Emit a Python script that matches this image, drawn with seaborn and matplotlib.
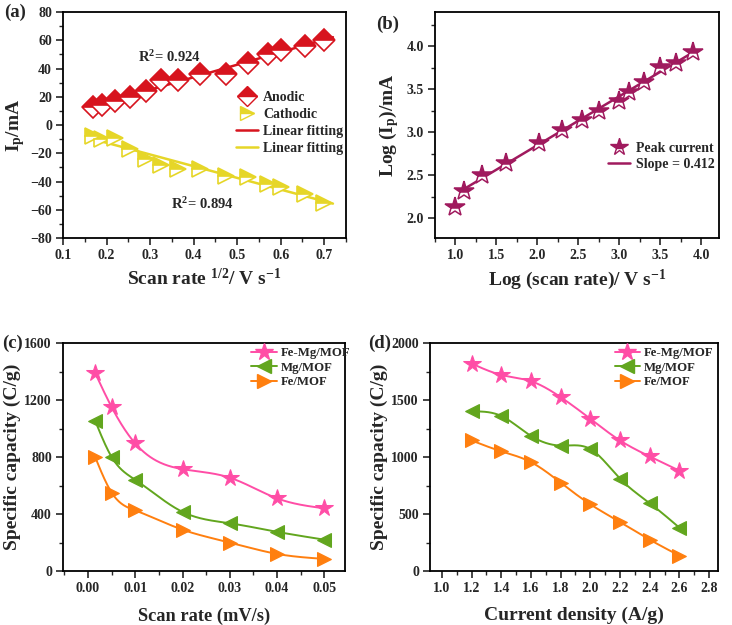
import numpy as np
import pandas as pd
import matplotlib
matplotlib.use("Agg")
import matplotlib.pyplot as plt
import seaborn as sns
from matplotlib.ticker import MultipleLocator, FormatStrFormatter
from matplotlib.lines import Line2D

# ---------------- data ----------------
# (a) peak current vs sqrt(scan rate)
a_x = [0.17, 0.19, 0.22, 0.255, 0.29, 0.325, 0.365, 0.415, 0.475, 0.525, 0.57, 0.60, 0.655, 0.70]
a_anodic = [13, 14, 17, 20, 24, 32, 32, 36, 36, 44, 50, 53, 56, 60]
a_cathodic = [-8, -10, -9, -17, -24, -28, -31, -31, -36, -37, -42, -44, -49, -55]
a_r2_anodic = "0.924"
a_r2_cathodic = "0.894"

# (b) log Ip vs log scan rate
b_x = [1.0, 1.1, 1.33, 1.62, 2.02, 2.3, 2.54, 2.75, 3.0, 3.12, 3.3, 3.5, 3.7, 3.9]
b_y = [2.13, 2.32, 2.50, 2.64, 2.87, 3.03, 3.14, 3.25, 3.37, 3.47, 3.59, 3.76, 3.81, 3.94]
b_slope_label = "Slope = 0.412"

# (c) specific capacity vs scan rate
c_x = [0.0015, 0.005, 0.01, 0.02, 0.03, 0.04, 0.05]
c_femg = [1390, 1150, 895, 715, 655, 510, 440]
c_mg = [1055, 800, 640, 415, 335, 275, 220]
c_fe = [800, 550, 425, 290, 200, 120, 85]

# (d) specific capacity vs current density
d_x = [1.2, 1.4, 1.6, 1.8, 2.0, 2.2, 2.4, 2.6]
d_femg = [1820, 1720, 1665, 1525, 1335, 1145, 1005, 880]
d_mg = [1400, 1360, 1185, 1100, 1070, 810, 595, 380]
d_fe = [1145, 1050, 955, 775, 585, 430, 275, 135]

series_names = ["Fe-Mg/MOF", "Mg/MOF", "Fe/MOF"]

# ---------------- style ----------------
sns.set_style("ticks")
plt.rcParams["font.family"] = ["Liberation Serif", "DejaVu Serif"]
plt.rcParams["font.weight"] = "bold"
plt.rcParams["axes.labelweight"] = "bold"
plt.rcParams["mathtext.default"] = "regular"
plt.rcParams["axes.linewidth"] = 1.3
plt.rcParams["xtick.direction"] = "out"
plt.rcParams["ytick.direction"] = "out"

RED = "#D7141E"
YEL = "#E6D628"
MAG = "#A01A5E"
PINK = "#FF4DA6"
GREEN = "#62A61E"
ORANGE = "#FF7F0F"

TICK_FS = 10
LABEL_FS = 14
LEG_FS = 10


def natural_spline(x, y, n=300):
    x = np.asarray(x, float)
    y = np.asarray(y, float)
    k = len(x)
    h = np.diff(x)
    A = np.zeros((k, k))
    r = np.zeros(k)
    A[0, 0] = 1
    A[-1, -1] = 1
    for i in range(1, k - 1):
        A[i, i - 1] = h[i - 1]
        A[i, i] = 2 * (h[i - 1] + h[i])
        A[i, i + 1] = h[i]
        r[i] = 6 * ((y[i + 1] - y[i]) / h[i] - (y[i] - y[i - 1]) / h[i - 1])
    M = np.linalg.solve(A, r)
    xs = np.linspace(x[0], x[-1], n)
    idx = np.clip(np.searchsorted(x, xs) - 1, 0, k - 2)
    x0, x1 = x[idx], x[idx + 1]
    hh = x1 - x0
    t0 = x1 - xs
    t1 = xs - x0
    ys = (M[idx] * t0 ** 3 / (6 * hh) + M[idx + 1] * t1 ** 3 / (6 * hh)
          + (y[idx] / hh - M[idx] * hh / 6) * t0
          + (y[idx + 1] / hh - M[idx + 1] * hh / 6) * t1)
    return xs, ys


def style_axis(ax):
    for s in ["top", "right", "left", "bottom"]:
        ax.spines[s].set_visible(True)
        ax.spines[s].set_color("black")
    ax.tick_params(which="major", length=5, width=1.2, labelsize=TICK_FS, pad=3)
    ax.tick_params(which="minor", length=3, width=1.0)
    ax.tick_params(top=False, right=False, which="both")
    for lab in ax.get_xticklabels() + ax.get_yticklabels():
        lab.set_fontweight("bold")


W, H = 732, 625
fig = plt.figure(figsize=(W / 100, H / 100), dpi=100)


def add_axes(l, r, t, b):
    return fig.add_axes([l / W, 1 - b / H, (r - l) / W, (b - t) / H])


axA = add_axes(63, 346, 12, 238)
axB = add_axes(435, 719, 12, 238)
axC = add_axes(63, 345, 343, 571)
axD = add_axes(430, 718, 343, 571)

# ---------------- (a) ----------------
dfa = pd.DataFrame({"x": a_x, "anodic": a_anodic, "cathodic": a_cathodic})
ax = axA
for col, color, mk in [("anodic", RED, "D"), ("cathodic", YEL, ">")]:
    p = np.polyfit(dfa["x"], dfa[col], 1)
    xf = np.array([dfa["x"].min() - 0.01, dfa["x"].max() + 0.02])
    ax.plot(xf, np.polyval(p, xf), color=color, lw=1.8, zorder=2)
    sns.lineplot(data=dfa, x="x", y=col, ax=ax, linestyle="", marker=mk,
                 markersize=11, fillstyle="top", markerfacecolor=color,
                 markerfacecoloralt="white", markeredgecolor=color,
                 markeredgewidth=1.2, zorder=3, legend=False)
ax.set_xlim(0.1, 0.75)
ax.set_ylim(-80, 80)
ax.xaxis.set_major_locator(MultipleLocator(0.1))
ax.xaxis.set_minor_locator(MultipleLocator(0.05))
ax.yaxis.set_major_locator(MultipleLocator(20))
ax.yaxis.set_minor_locator(MultipleLocator(10))
ax.xaxis.set_major_formatter(FormatStrFormatter("%.1f"))
ax.set_xlabel("Scan rate $^{1/2}$/ V s$^{-1}$", fontsize=LABEL_FS, fontweight="bold", labelpad=4)
ax.set_ylabel("I$_{p}$/mA", fontsize=LABEL_FS, fontweight="bold", labelpad=2)
ax.text(0.345, 48, "R$^{2}$= " + a_r2_anodic, fontsize=10.5, fontweight="bold", ha="center", va="center")
ax.text(0.42, -56, "R$^{2}$= " + a_r2_cathodic, fontsize=10.5, fontweight="bold", ha="center", va="center")
handles = [
    Line2D([], [], linestyle="", marker="D", markersize=10, fillstyle="top", color=RED,
           markerfacecoloralt="white", markeredgecolor=RED),
    Line2D([], [], linestyle="", marker=">", markersize=10, fillstyle="top", color=YEL,
           markerfacecoloralt="white", markeredgecolor=YEL),
    Line2D([], [], color=RED, lw=1.8),
    Line2D([], [], color=YEL, lw=1.8),
]
ax.legend(handles, ["Anodic", "Cathodic", "Linear fitting", "Linear fitting"],
          loc="upper left", bbox_to_anchor=(0.59, 0.675), frameon=False,
          prop={"weight": "bold", "size": LEG_FS}, handlelength=1.6,
          handletextpad=0.4, labelspacing=0.28, borderaxespad=0)
style_axis(ax)

# ---------------- (b) ----------------
dfb = pd.DataFrame({"x": b_x, "y": b_y})
ax = axB
p = np.polyfit(dfb["x"][1:], dfb["y"][1:], 1)
xf = np.array([dfb["x"][1], dfb["x"].iloc[-1]])
ax.plot(xf, np.polyval(p, xf), color=MAG, lw=1.8, zorder=2)
sns.lineplot(data=dfb, x="x", y="y", ax=ax, linestyle="", marker="*",
             markersize=15, fillstyle="top", markerfacecolor=MAG,
             markerfacecoloralt="white", markeredgecolor=MAG,
             markeredgewidth=1.1, zorder=3, legend=False)
ax.set_xlim(0.75, 4.22)
ax.set_ylim(1.77, 4.4)
ax.xaxis.set_major_locator(MultipleLocator(0.5))
ax.xaxis.set_minor_locator(MultipleLocator(0.25))
ax.yaxis.set_major_locator(MultipleLocator(0.5))
ax.yaxis.set_minor_locator(MultipleLocator(0.25))
ax.xaxis.set_major_formatter(FormatStrFormatter("%.1f"))
ax.yaxis.set_major_formatter(FormatStrFormatter("%.1f"))
ax.set_xlabel("Log (scan rate)/ V s$^{-1}$", fontsize=LABEL_FS, fontweight="bold", labelpad=4)
ax.set_ylabel("Log (I$_{p}$)/mA", fontsize=LABEL_FS, fontweight="bold", labelpad=4)
handles = [
    Line2D([], [], linestyle="", marker="*", markersize=13, fillstyle="top", color=MAG,
           markerfacecoloralt="white", markeredgecolor=MAG),
    Line2D([], [], color=MAG, lw=1.8),
]
ax.legend(handles, ["Peak current", b_slope_label],
          loc="upper left", bbox_to_anchor=(0.59, 0.45), frameon=False,
          prop={"weight": "bold", "size": LEG_FS}, handlelength=1.6,
          handletextpad=0.4, labelspacing=0.25, borderaxespad=0)
style_axis(ax)


# ---------------- (c) & (d) ----------------
def capacity_panel(ax, xs, ys_list, leg_x):
    specs = [(PINK, "*", 13), (GREEN, "<", 10), (ORANGE, ">", 10)]
    df = pd.DataFrame({"x": np.tile(xs, 3),
                       "y": np.concatenate(ys_list),
                       "series": np.repeat(series_names, len(xs))})
    for name, (color, mk, ms) in zip(series_names, specs):
        sub = df[df["series"] == name]
        sx, sy = natural_spline(sub["x"].values, sub["y"].values)
        ax.plot(sx, sy, color=color, lw=1.4, zorder=2)
        sns.lineplot(data=sub, x="x", y="y", ax=ax, linestyle="", marker=mk,
                     markersize=ms, color=color, markeredgecolor=color,
                     zorder=3, legend=False)
    handles = [Line2D([], [], color=c, marker=m, markersize=s, lw=1.4) for c, m, s in specs]
    ax.legend(handles, series_names, loc="upper left", bbox_to_anchor=(leg_x, 1.02),
              frameon=False, prop={"weight": "bold", "size": 9.2},
              handlelength=2.0, handletextpad=0.3, labelspacing=0.2, borderaxespad=0.3)


ax = axC
capacity_panel(ax, c_x, [c_femg, c_mg, c_fe], 0.635)
ax.set_xlim(-0.0053, 0.0544)
ax.set_ylim(0, 1600)
ax.xaxis.set_major_locator(MultipleLocator(0.01))
ax.xaxis.set_minor_locator(MultipleLocator(0.005))
ax.yaxis.set_major_locator(MultipleLocator(400))
ax.yaxis.set_minor_locator(MultipleLocator(200))
ax.xaxis.set_major_formatter(FormatStrFormatter("%.2f"))
ax.set_xlabel("Scan rate (mV/s)", fontsize=13.2, fontweight="bold", labelpad=9)
ax.set_ylabel("Specific capacity (C/g)", fontsize=LABEL_FS, fontweight="bold", labelpad=2)
style_axis(ax)

ax = axD
capacity_panel(ax, d_x, [d_femg, d_mg, d_fe], 0.61)
ax.set_xlim(0.92, 2.86)
ax.set_ylim(0, 2000)
ax.xaxis.set_major_locator(MultipleLocator(0.2))
ax.xaxis.set_minor_locator(MultipleLocator(0.1))
ax.yaxis.set_major_locator(MultipleLocator(500))
ax.yaxis.set_minor_locator(MultipleLocator(250))
ax.xaxis.set_major_formatter(FormatStrFormatter("%.1f"))
ax.set_xlabel("Current density (A/g)", fontsize=LABEL_FS, fontweight="bold", labelpad=8)
ax.set_ylabel("Specific capacity (C/g)", fontsize=LABEL_FS, fontweight="bold", labelpad=2)
style_axis(ax)

# panel letters
for txt, x, y in [("(a)", 4, 12), ("(b)", 376, 24), ("(c)", 2, 343), ("(d)", 368, 343)]:
    fig.text(x / W, 1 - y / H, txt, fontsize=13.5, fontweight="bold", ha="left", va="center")

fig.savefig("out.png", dpi=100)
